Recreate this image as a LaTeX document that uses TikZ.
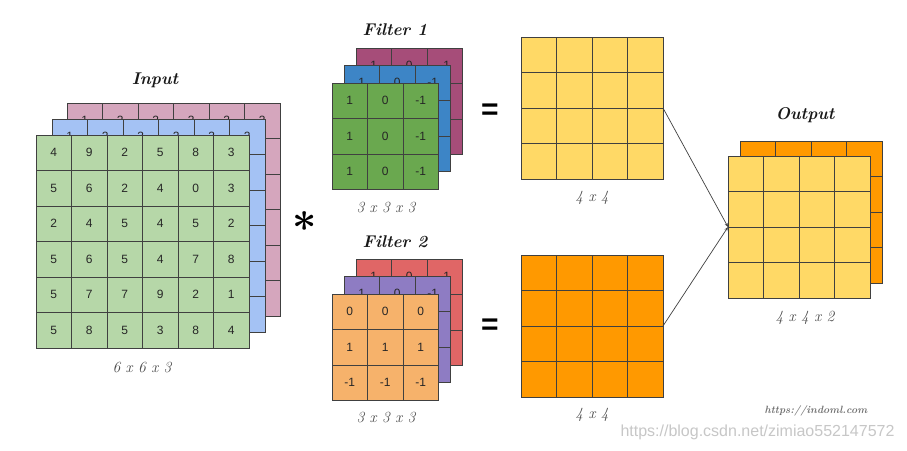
\documentclass[tikz,border=0pt]{standalone}
\usepackage{fontspec}
\setsansfont{Liberation Sans}
\usepackage{tikz}
\usepackage{xcolor}
\usetikzlibrary{arrows.meta,positioning,calc}
\definecolor{InGreen}{HTML}{B6D7A8}
\definecolor{InBlue}{HTML}{A4C2F4}
\definecolor{InPink}{HTML}{D5A6BD}
\definecolor{FGreen}{HTML}{6AA84F}
\definecolor{FBlue}{HTML}{3D85C6}
\definecolor{FMagenta}{HTML}{A64D79}
\definecolor{FOrange}{HTML}{F6B26B}
\definecolor{FPurple}{HTML}{8E7CC3}
\definecolor{FRed}{HTML}{E06666}
\definecolor{OutYellow}{HTML}{FFD966}
\definecolor{OutOrange}{HTML}{FF9900}
\newcommand{\cellsz}{35.5}
\tikzset{
  layer/.style={draw=black!75, line width=0.9pt, inner sep=0pt, outer sep=0pt, anchor=north west},
  gridline/.style={draw=black!75, line width=0.9pt},
  cellnum/.style={font=\sffamily\fontsize{12}{12}\selectfont, text=black!85},
  title/.style={font=\bfseries\itshape\fontsize{17}{17}\selectfont, text=black!90},
  dimlabel/.style={font=\itshape\fontsize{15.5}{15.5}\selectfont, text=black!70}
}
% one square layer of n x n cells, top left corner at (x,y)
\newcommand{\gridlayer}[5]{% name, x, y, n, fill
  \node[layer, fill=#5, minimum width=#4*\cellsz, minimum height=#4*\cellsz] (#1) at (#2,#3) {};
  \pgfmathtruncatemacro{\nlast}{#4-1}
  \foreach \k in {1,...,\nlast} {
    \draw[gridline] (#1.north west) ++(\k*\cellsz,0) -- ++(0,#4*\cellsz);
    \draw[gridline] (#1.north west) ++(0,\k*\cellsz) -- ++(#4*\cellsz,0);
  }
}
\newcommand{\gridvalues}[2]{% name, rows
  \foreach \row [count=\r] in {#2} {
    \foreach \v [count=\c] in \row {
      \node[cellnum] (#1-\r-\c) at ($(#1.north west)+(\c*\cellsz-0.5*\cellsz,\r*\cellsz-0.5*\cellsz)$) {\v};
    }
  }
}

\begin{document}
\begin{tikzpicture}[x=1pt, y=-1pt]
\useasboundingbox[fill=white] (0,0) rectangle (907,450);

% input 6x6x3 (only the top row of the back layers peeks out)
\gridlayer{in3}{67}{103}{6}{InPink}
\gridvalues{in3}{{1,2,2,3,2,3}}
\gridlayer{in2}{52}{119}{6}{InBlue}
\gridvalues{in2}{{1,2,3,2,3,2}}
\gridlayer{in1}{36}{135}{6}{InGreen}
\gridvalues{in1}{{4,9,2,5,8,3},{5,6,2,4,0,3},{2,4,5,4,5,2},{5,6,5,4,7,8},{5,7,7,9,2,1},{5,8,5,3,8,4}}
\node[title] (intitle) at (155,80) {Input};
\node[dimlabel] (indim) at (142,368) {\oldstylenums{6} x \oldstylenums{6} x \oldstylenums{3}};

\node[scale=1.7, font=\boldmath\fontsize{24.88}{25}\selectfont] (conv) at (305,222) {$\ast$};

% filter 1
\gridlayer{fa3}{356}{48}{3}{FMagenta}
\gridvalues{fa3}{{1,0,-1}}
\gridlayer{fa2}{344}{65}{3}{FBlue}
\gridvalues{fa2}{{1,0,-1}}
\gridlayer{fa1}{332}{83}{3}{FGreen}
\gridvalues{fa1}{{1,0,-1},{1,0,-1},{1,0,-1}}
\node[title] (fatitle) at (395,30) {Filter \oldstylenums{1}};
\node[dimlabel] (fadim) at (386,208) {\oldstylenums{3} x \oldstylenums{3} x \oldstylenums{3}};

% filter 2
\gridlayer{fb3}{356}{259}{3}{FRed}
\gridvalues{fb3}{{1,0,-1}}
\gridlayer{fb2}{344}{276}{3}{FPurple}
\gridvalues{fb2}{{1,0,-1}}
\gridlayer{fb1}{332}{294}{3}{FOrange}
\gridvalues{fb1}{{0,0,0},{1,1,1},{-1,-1,-1}}
\node[title] (fbtitle) at (395,242) {Filter \oldstylenums{2}};
\node[dimlabel] (fbdim) at (386,418) {\oldstylenums{3} x \oldstylenums{3} x \oldstylenums{3}};

\node[font=\sffamily\bfseries\fontsize{30}{30}\selectfont] (eqa) at (490,112) {=};
\node[font=\sffamily\bfseries\fontsize{30}{30}\selectfont] (eqb) at (490,327) {=};

% feature maps
\gridlayer{ma}{521}{37}{4}{OutYellow}
\node[dimlabel] (madim) at (592,198) {\oldstylenums{4} x \oldstylenums{4}};
\gridlayer{mb}{521}{255}{4}{OutOrange}
\node[dimlabel] (mbdim) at (592,415) {\oldstylenums{4} x \oldstylenums{4}};

% output 4x4x2
\gridlayer{out2}{740}{141}{4}{OutOrange}
\gridlayer{out1}{728}{156}{4}{OutYellow}
\node[title] (outtitle) at (805,115) {Output};
\node[dimlabel] (outdim) at (805,318) {\oldstylenums{4} x \oldstylenums{4} x \oldstylenums{2}};

\draw[-{Stealth[length=4pt,width=3pt]}, black!75, line width=0.7pt] (ma.east) -- (out1.west);
\draw[-{Stealth[length=4pt,width=3pt]}, black!75, line width=0.7pt] (mb.east) -- (out1.west);

\node[font=\bfseries\itshape\fontsize{10.5}{11}\selectfont, text=black!55] (src) at (816,411) {https://indoml.com};
\node[font=\sffamily\fontsize{16}{16}\selectfont, text=black!22, anchor=east] (wm) at (898,432) {https://blog.csdn.net/zimiao552147572};
\end{tikzpicture}
\end{document}
